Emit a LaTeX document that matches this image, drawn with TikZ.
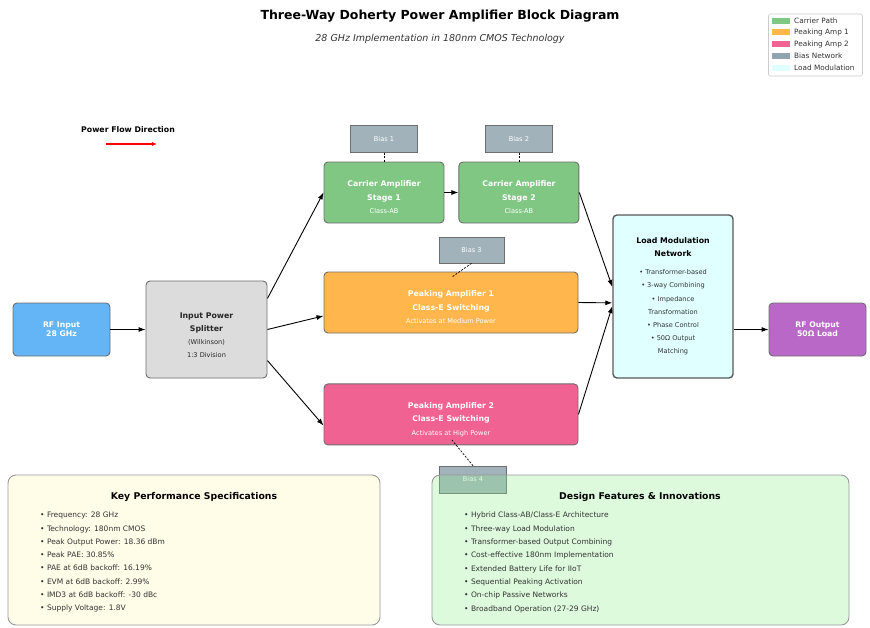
\documentclass[tikz,border=0pt]{standalone}
\usepackage{fontspec}
\setmainfont{DejaVu Sans}[BoldFont={DejaVu Sans Bold}, ItalicFont={DejaVu Sans Oblique}]
\usepackage{xcolor}
\usetikzlibrary{arrows.meta, positioning}

\definecolor{rfblue}{HTML}{64B5F6}
\definecolor{splitgray}{HTML}{DCDCDC}
\definecolor{carriergreen}{HTML}{81C784}
\definecolor{peakorange}{HTML}{FFB74D}
\definecolor{peakpink}{HTML}{F06292}
\definecolor{biasgray}{HTML}{90A4AE}
\definecolor{loadcyan}{HTML}{E0FFFF}
\definecolor{outpurple}{HTML}{BA68C8}
\definecolor{specyellow}{HTML}{FFFDE7}
\definecolor{featgreen}{HTML}{90EE90}
\definecolor{edgegray}{HTML}{6E6E6E}
\definecolor{textdark}{HTML}{333333}

\newcommand{\boxnote}[1]{{\fontsize{6.6}{13.4}\selectfont\mdseries #1}}
\newcommand{\boxlead}{\rule{0pt}{16pt}}

\begin{document}
\begin{tikzpicture}[
    x=1pt, y=-1pt,
    block/.style={rectangle, draw=edgegray, line width=0.9pt, rounded corners=4pt, align=center, inner sep=0pt},
    portbox/.style={block, text=white, minimum width=97pt, minimum height=53pt, font=\fontsize{7.7}{9.2}\selectfont\bfseries},
    ampbox/.style={block, fill=#1, text=white, minimum height=61pt, font=\fontsize{7.8}{13.5}\selectfont\bfseries},
    biasbox/.style={rectangle, draw=edgegray, line width=0.6pt, fill=biasgray, fill opacity=0.85, text opacity=1, text=white, minimum width=67pt, minimum height=27pt, inner sep=0pt, font=\fontsize{6.6}{8}\selectfont},
    panel/.style={rectangle, draw=black!40, line width=0.9pt, rounded corners=8pt, minimum height=150pt},
    paneltitle/.style={font=\fontsize{9.3}{11}\selectfont\bfseries},
    bulletlist/.style={anchor=north west, align=left, inner sep=0pt, text=textdark, font=\fontsize{7.5}{13.3}\selectfont},
    legendtext/.style={anchor=west, inner sep=0pt, text=textdark, font=\fontsize{7.3}{9}\selectfont},
    arrow/.style={-{Latex[length=7pt, width=5pt]}, line width=0.9pt},
    flowarrow/.style={-{Latex[length=5pt, width=4pt]}, red, line width=1.2pt},
    biaslink/.style={line width=0.7pt, dash pattern=on 2pt off 1.5pt}
]
\useasboundingbox (0,0) rectangle (870,627);

\node (title) [font=\fontsize{12.5}{15}\selectfont\bfseries] at (440,16) {Three-Way Doherty Power Amplifier Block Diagram};
\node (subtitle) [font=\fontsize{9.5}{11}\selectfont\itshape, text=textdark] at (440,39) {28 GHz Implementation in 180nm CMOS Technology};

\node (legend) [rectangle, draw=black!20, line width=0.6pt, rounded corners=2pt, fill=white, minimum width=94pt, minimum height=62pt, inner sep=0pt] at (815.5,45) {};
\fill [carriergreen] (772,17.7) rectangle (790,23.7);
\fill [peakorange] (772,29.4) rectangle (790,35.4);
\fill [peakpink] (772,41.1) rectangle (790,47.1);
\fill [biasgray] (772,52.8) rectangle (790,58.8);
\fill [loadcyan] (772,64.5) rectangle (790,70.5);
\node (legcarrier) [legendtext] at (794,20.7) {Carrier Path};
\node (legpeak1) [legendtext] at (794,32.4) {Peaking Amp 1};
\node (legpeak2) [legendtext] at (794,44.1) {Peaking Amp 2};
\node (legbias) [legendtext] at (794,55.8) {Bias Network};
\node (legload) [legendtext] at (794,67.5) {Load Modulation};

\node (flowlabel) [font=\fontsize{7.8}{9}\selectfont\bfseries] at (128,130) {Power Flow Direction};
\coordinate (flowstart) at (106,144);
\coordinate (flowend) at (157,144);
\draw [flowarrow] (flowstart) -- (flowend);

\node (rfin) [portbox, fill=rfblue] at (61.5,329.5) {RF Input\\28 GHz};
\node (split) [block, fill=splitgray, minimum width=121pt, minimum height=97pt, text=black!85, font=\fontsize{7.8}{13.3}\selectfont\bfseries] at (206.5,329.5) {\rule{0pt}{17pt}Input Power\\Splitter\\\boxnote{(Wilkinson)}\\\boxnote{1:3 Division}};
\node (car1) [ampbox=carriergreen, minimum width=120pt] at (384,192.5) {\boxlead Carrier Amplifier\\Stage 1\\\boxnote{Class-AB}};
\node (car2) [ampbox=carriergreen, minimum width=120pt, right=14pt of car1] {\boxlead Carrier Amplifier\\Stage 2\\\boxnote{Class-AB}};
\node (peak1) [ampbox=peakorange, minimum width=254pt] at (451,302.5) {\boxlead Peaking Amplifier 1\\Class-E Switching\\\boxnote{Activates at Medium Power}};
\node (peak2) [ampbox=peakpink, minimum width=254pt, below=50pt of peak1] {\boxlead Peaking Amplifier 2\\Class-E Switching\\\boxnote{Activates at High Power}};
\node (lmn) [block, fill=loadcyan, draw=black!65, line width=1.4pt, minimum width=120pt, minimum height=163pt, font=\fontsize{7.8}{13.2}\selectfont\bfseries] at (673,296.5) {Load Modulation\\Network\\[4.5pt]\boxnote{\color{textdark}• Transformer-based}\\\boxnote{\color{textdark}• 3-way Combining}\\\boxnote{\color{textdark}• Impedance}\\\boxnote{\color{textdark}Transformation}\\\boxnote{\color{textdark}• Phase Control}\\\boxnote{\color{textdark}• 50Ω Output}\\\boxnote{\color{textdark}Matching}};
\node (rfout) [portbox, fill=outpurple] at (817.5,329.5) {RF Output\\50Ω Load};

\node (bias1) [biasbox, above=9pt of car1] {Bias 1};
\node (bias2) [biasbox, above=9pt of car2] {Bias 2};
\node (bias3) [biasbox, minimum width=65pt, minimum height=26pt] at (471.5,250) {Bias 3};
\node (bias4) [biasbox] at (473,479.5) {Bias 4};
\coordinate (bias3end) at (452,277);
\coordinate (bias4end) at (452,440);

\draw [biaslink] (bias1) -- (car1);
\draw [biaslink] (bias2) -- (car2);
\draw [biaslink] (bias3.south) -- (bias3end);
\draw [biaslink] (bias4.north) -- (bias4end);

\draw [arrow] (rfin) -- (split);
\draw [arrow] (split.27) -- (car1.west);
\draw [arrow] (split.east) -- (peak1.186);
\draw [arrow] (split.-27) -- (peak2.185);
\draw [arrow] (car1) -- (car2);
\draw [arrow] (car2.east) -- (lmn.171);
\draw [arrow] (peak1.east) -- (lmn.186);
\draw [arrow] (peak2.east) -- (lmn.189);
\draw [arrow] (lmn.east |- rfout.west) -- (rfout.west);

\node (specs) [panel, fill=specyellow, minimum width=372pt] at (194,550) {};
\node (specstitle) [paneltitle] at (194,497) {Key Performance Specifications};
\node (specslist) [bulletlist] at (40,512) {• Frequency: 28 GHz\\• Technology: 180nm CMOS\\• Peak Output Power: 18.36 dBm\\• Peak PAE: 30.85\%\\• PAE at 6dB backoff: 16.19\%\\• EVM at 6dB backoff: 2.99\%\\• IMD3 at 6dB backoff: -30 dBc\\• Supply Voltage: 1.8V};

\node (features) [panel, fill=featgreen, fill opacity=0.3, text opacity=1, minimum width=417pt] at (640.5,550) {};
\node (featurestitle) [paneltitle] at (640,497) {Design Features \& Innovations};
\node (featureslist) [bulletlist] at (464,512) {• Hybrid Class-AB/Class-E Architecture\\• Three-way Load Modulation\\• Transformer-based Output Combining\\• Cost-effective 180nm Implementation\\• Extended Battery Life for IIoT\\• Sequential Peaking Activation\\• On-chip Passive Networks\\• Broadband Operation (27-29 GHz)};

\end{tikzpicture}
\end{document}
